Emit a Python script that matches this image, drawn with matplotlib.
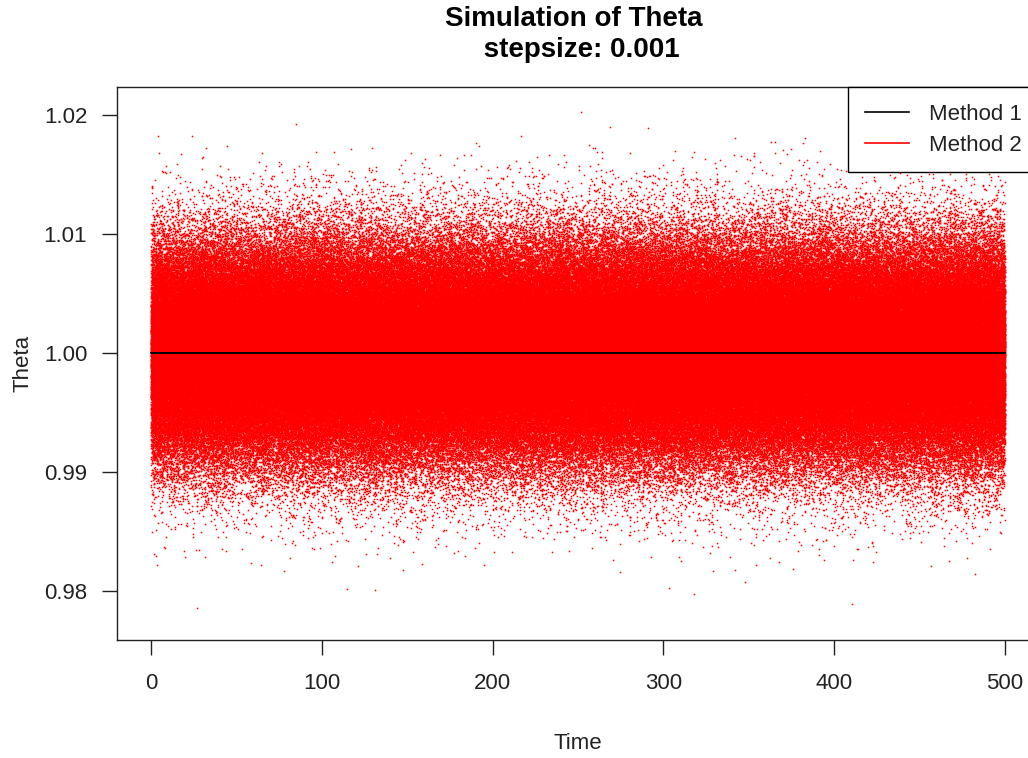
import numpy as np
import matplotlib
matplotlib.use("Agg")
import matplotlib.pyplot as plt

plt.rcParams["font.family"] = ["Liberation Sans", "DejaVu Sans"]

# Simulation settings
stepsize = 0.001
t_end = 500
theta_true = 1.0
noise_sd = 0.0045

time = np.arange(0, t_end, stepsize)
method1 = np.full_like(time, theta_true)
rng = np.random.default_rng(2024)
method2 = theta_true + noise_sd * rng.standard_normal(time.size)

x_ticks = [0, 100, 200, 300, 400, 500]
y_ticks = [0.98, 0.99, 1.00, 1.01, 1.02]
y_tick_labels = ["0.98", "0.99", "1.00", "1.01", "1.02"]
legend_labels = ["Method 1", "Method 2"]

W, H = 1028, 758
fs = 16
fig = plt.figure(figsize=(W / 100, H / 100), dpi=100)
ax = fig.add_axes([117 / W, 1 - 640 / H, 922 / W, 553 / H])

ax.plot(time, method2, linestyle="none", marker="s", markersize=1.1,
        markeredgewidth=0, color="#ff0000", rasterized=True)
ax.plot(time, method1, color="black", linewidth=1.4)

ax.set_xlim(-20, 520)
ax.set_ylim(0.97588, 1.02235)

ax.set_xticks(x_ticks)
ax.set_yticks(y_ticks)
ax.set_yticklabels(y_tick_labels)
ax.tick_params(axis="both", labelsize=fs, length=10.5, width=1.0,
               color="#222222", labelcolor="#222222")
ax.tick_params(axis="x", pad=13.5)
ax.tick_params(axis="y", pad=11)
for s in ax.spines.values():
    s.set_linewidth(1.0)
    s.set_color("#222222")

ax.set_xlabel("Time", fontsize=fs, color="#222222", labelpad=28)
ax.set_ylabel("Theta", fontsize=fs, color="#222222", labelpad=7)

ax.set_title("Simulation of Theta \n stepsize: 0.001", fontsize=20,
             fontweight="bold", pad=21.5, linespacing=1.25)

handles = [
    plt.Line2D([], [], color="black", linewidth=1.2),
    plt.Line2D([], [], color="#ff0000", linewidth=1.2),
]
leg = ax.legend(handles, legend_labels, loc="upper right",
                bbox_to_anchor=(1, 1), borderaxespad=0, fontsize=fs,
                fancybox=False, framealpha=1, edgecolor="black",
                handlelength=2.0, handletextpad=0.9, borderpad=0.75,
                labelspacing=0.45)
leg.get_frame().set_linewidth(1.0)
for txt in leg.get_texts():
    txt.set_color("#222222")

fig.savefig("out.png", dpi=100)
